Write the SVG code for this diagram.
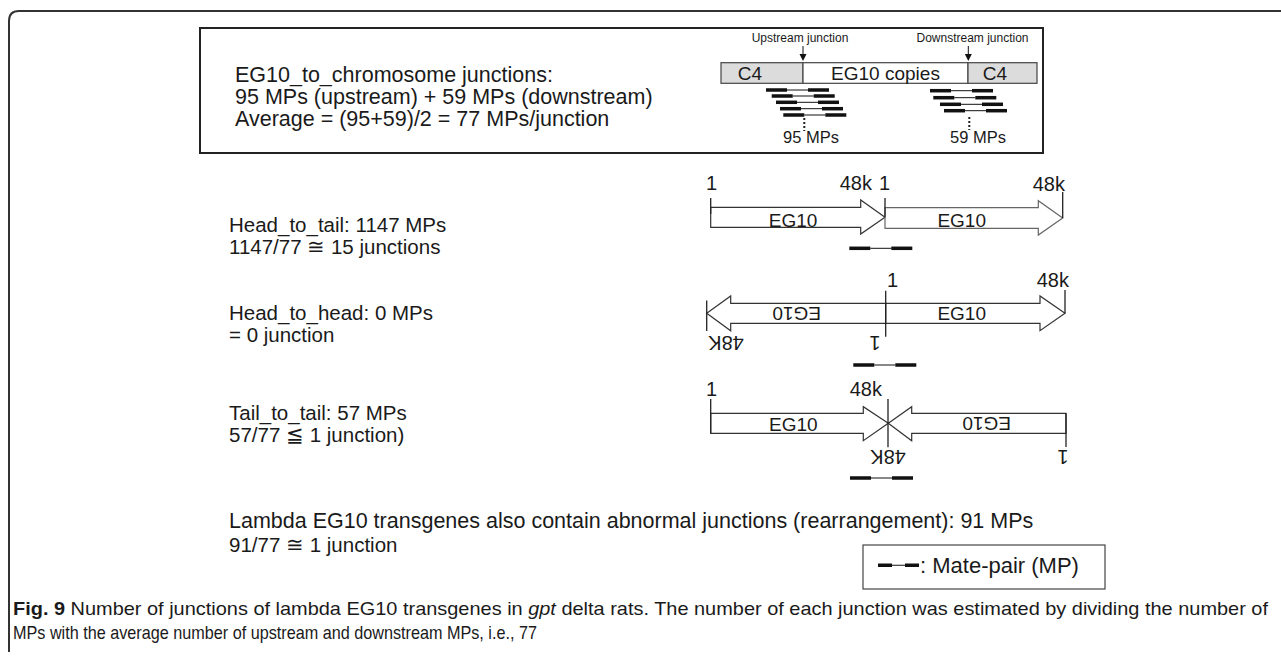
<svg xmlns="http://www.w3.org/2000/svg" width="1281" height="658" viewBox="0 0 1281 658">
<style>
text{font-family:"Liberation Sans",Arial,sans-serif;fill:#1a1a1a}
.big{font-size:21.5px}
.mid{font-size:20.5px}
.lab{font-size:20px}
.eg{font-size:19px}
.sm{font-size:12px}
.mps{font-size:16.5px}
.cap{font-family:"Liberation Sans Narrow","Liberation Sans",sans-serif;font-size:18.5px}
.blk{fill:#fff;stroke:#333;stroke-width:1.2}
.blk2{fill:#fff;stroke:#666;stroke-width:1.2}
.tick{stroke:#222;stroke-width:1.3}
.bar{fill:#111}
.thin{stroke:#111;stroke-width:1}
.dots{stroke:#222;stroke-width:2;stroke-dasharray:2 2}
</style>
<defs>
<g id="mp"><rect class="bar" x="0" y="-1.75" width="21" height="3.5"/><line class="thin" x1="21" y1="0" x2="42" y2="0"/><rect class="bar" x="42" y="-1.75" width="21" height="3.5"/></g>
<path id="jarrow" d="M-3.5,-7 L3.5,-7 L0,0 z" fill="#111"/>
</defs>

<path d="M9,652 L9,21 Q9,11 19,11 L1281,11" fill="none" stroke="#333" stroke-width="2"/>

<g id="summary-box">
<rect x="200" y="28" width="843" height="125" fill="none" stroke="#222" stroke-width="2"/>
<text class="big" x="235" y="82">EG10_to_chromosome junctions:</text>
<text class="big" x="235" y="104">95 MPs (upstream) + 59 MPs (downstream)</text>
<text class="big" x="235" y="126">Average = (95+59)/2 = 77 MPs/junction</text>
</g>

<g id="chromosome-bar">
<rect x="721" y="62.7" width="82" height="20.6" fill="#dcdcdc" stroke="#444" stroke-width="1.2"/>
<rect x="803" y="62.7" width="165" height="20.6" fill="#fff" stroke="#444" stroke-width="1.2"/>
<rect x="968" y="62.7" width="69" height="20.6" fill="#dcdcdc" stroke="#444" stroke-width="1.2"/>
<text class="eg" x="750" y="79.5" text-anchor="middle">C4</text>
<text class="eg" x="885.5" y="79.5" text-anchor="middle">EG10 copies</text>
<text class="eg" x="995" y="79.5" text-anchor="middle">C4</text>
<text class="sm" x="800" y="41.7" text-anchor="middle">Upstream junction</text>
<text class="sm" x="972.5" y="41.7" text-anchor="middle">Downstream junction</text>
<line class="thin" x1="803" y1="46" x2="803" y2="55"/>
<use href="#jarrow" x="803" y="61"/>
<line class="thin" x1="968.3" y1="46" x2="968.3" y2="55"/>
<use href="#jarrow" x="968.3" y="61"/>
</g>

<g id="upstream-mps">
<use href="#mp" x="766" y="90"/>
<use href="#mp" x="771.7" y="96"/>
<use href="#mp" x="776" y="102.3"/>
<use href="#mp" x="780" y="108.7"/>
<use href="#mp" x="783.3" y="115"/>
<line class="dots" x1="804.3" y1="118" x2="804.3" y2="131"/>
<text class="mps" x="811" y="143.3" text-anchor="middle">95 MPs</text>
</g>

<g id="downstream-mps">
<use href="#mp" x="930" y="90.7"/>
<use href="#mp" x="933.3" y="97.7"/>
<use href="#mp" x="940" y="104.3"/>
<use href="#mp" x="944" y="110.7"/>
<line class="dots" x1="969.3" y1="117" x2="969.3" y2="130"/>
<text class="mps" x="978" y="143.3" text-anchor="middle">59 MPs</text>
</g>

<g id="head-to-tail">
<text class="mid" x="229" y="232">Head_to_tail: 1147 MPs</text>
<text class="mid" x="229" y="254">1147/77 ≅ 15 junctions</text>
<polygon class="blk" points="710.7,207.3 860.7,207.3 860.7,200 885,217.3 860.7,234 860.7,227.3 710.7,227.3"/>
<polygon class="blk2" points="885,207.7 1038.3,207.7 1038.3,200.7 1062.7,218 1038.3,235 1038.3,228.3 885,228.3"/>
<line class="tick" x1="710.7" y1="198" x2="710.7" y2="214"/>
<line class="tick" x1="885" y1="198" x2="885" y2="217.3"/>
<line class="tick" x1="1062.7" y1="192" x2="1062.7" y2="218"/>
<text class="lab" x="706" y="190">1</text>
<text class="lab" x="872" y="190" text-anchor="end">48k</text>
<text class="lab" x="879" y="190">1</text>
<text class="lab" x="1065" y="190.7" text-anchor="end">48k</text>
<text class="eg" x="793" y="226.5" text-anchor="middle">EG10</text>
<text class="eg" x="961.7" y="226.5" text-anchor="middle">EG10</text>
<use href="#mp" x="849.3" y="248.3"/>
</g>

<g id="head-to-head">
<text class="mid" x="229" y="320">Head_to_head: 0 MPs</text>
<text class="mid" x="229" y="342">= 0 junction</text>
<polygon class="blk" points="885.7,303.3 730.7,303.3 730.7,296 706.7,313.3 730.7,330.7 730.7,323.3 885.7,323.3"/>
<polygon class="blk" points="885.7,303.3 1040,303.3 1040,296 1065,313.3 1040,330.7 1040,323.3 885.7,323.3"/>
<line class="tick" x1="885.7" y1="290.7" x2="885.7" y2="336.7"/>
<line class="tick" x1="706.7" y1="300.5" x2="706.7" y2="331"/>
<line class="tick" x1="1065" y1="290" x2="1065" y2="313.3"/>
<text class="lab" x="887" y="286.7">1</text>
<text class="lab" x="1069" y="287" text-anchor="end">48k</text>
<text class="eg" x="961.7" y="320" text-anchor="middle">EG10</text>
<text class="eg" x="796.7" y="320.1" text-anchor="middle" transform="rotate(180 796.7 313.3)">EG10</text>
<text class="lab" x="726" y="350.2" text-anchor="middle" transform="rotate(180 726 343)">48K</text>
<text class="lab" x="875" y="350.2" text-anchor="middle" transform="rotate(180 875 343)">1</text>
<use href="#mp" x="853.3" y="365"/>
</g>

<g id="tail-to-tail">
<text class="mid" x="229" y="420">Tail_to_tail: 57 MPs</text>
<text class="mid" x="229" y="442">57/77 ≦ 1 junction)</text>
<polygon class="blk" points="710.7,413.3 863.3,413.3 863.3,406.7 888.3,423.3 863.3,440.7 863.3,433.3 710.7,433.3"/>
<polygon class="blk" points="1066,413.3 911.7,413.3 911.7,406.7 888.3,423.3 911.7,440.7 911.7,433.3 1066,433.3"/>
<line class="tick" x1="888" y1="399" x2="888" y2="447.3"/>
<line class="tick" x1="710.7" y1="399" x2="710.7" y2="433.3"/>
<line class="tick" x1="1066" y1="413.3" x2="1066" y2="447"/>
<text class="lab" x="706" y="396">1</text>
<text class="lab" x="882" y="396" text-anchor="end">48k</text>
<text class="eg" x="793.3" y="430.5" text-anchor="middle">EG10</text>
<text class="eg" x="986.7" y="430.1" text-anchor="middle" transform="rotate(180 986.7 423.3)">EG10</text>
<text class="lab" x="888" y="464.5" text-anchor="middle" transform="rotate(180 888 457.3)">48K</text>
<text class="lab" x="1063" y="464.5" text-anchor="middle" transform="rotate(180 1063 457.3)">1</text>
<use href="#mp" x="850" y="478"/>
</g>

<g id="abnormal">
<text class="mid" x="229" y="528" style="font-size:21.5px">Lambda EG10 transgenes also contain abnormal junctions (rearrangement): 91 MPs</text>
<text class="mid" x="229" y="551.5">91/77 ≅ 1 junction</text>
</g>

<g id="legend">
<rect x="863" y="545" width="242" height="44" fill="#fff" stroke="#444" stroke-width="1.2"/>
<rect class="bar" x="878" y="563.5" width="14" height="3.5"/>
<line class="thin" x1="892" y1="565.25" x2="905" y2="565.25"/>
<rect class="bar" x="905" y="563.5" width="14" height="3.5"/>
<text class="lab" x="920" y="573" style="font-size:22px">: Mate-pair (MP)</text>
</g>

<g id="caption">
<text class="cap" x="13" y="615" textLength="1255" lengthAdjust="spacingAndGlyphs"><tspan font-weight="bold">Fig. 9</tspan> Number of junctions of lambda EG10 transgenes in <tspan font-style="italic">gpt</tspan> delta rats. The number of each junction was estimated by dividing the number of</text>
<text class="cap" x="13" y="639" textLength="524" lengthAdjust="spacingAndGlyphs">MPs with the average number of upstream and downstream MPs, i.e., 77</text>
</g>
</svg>
